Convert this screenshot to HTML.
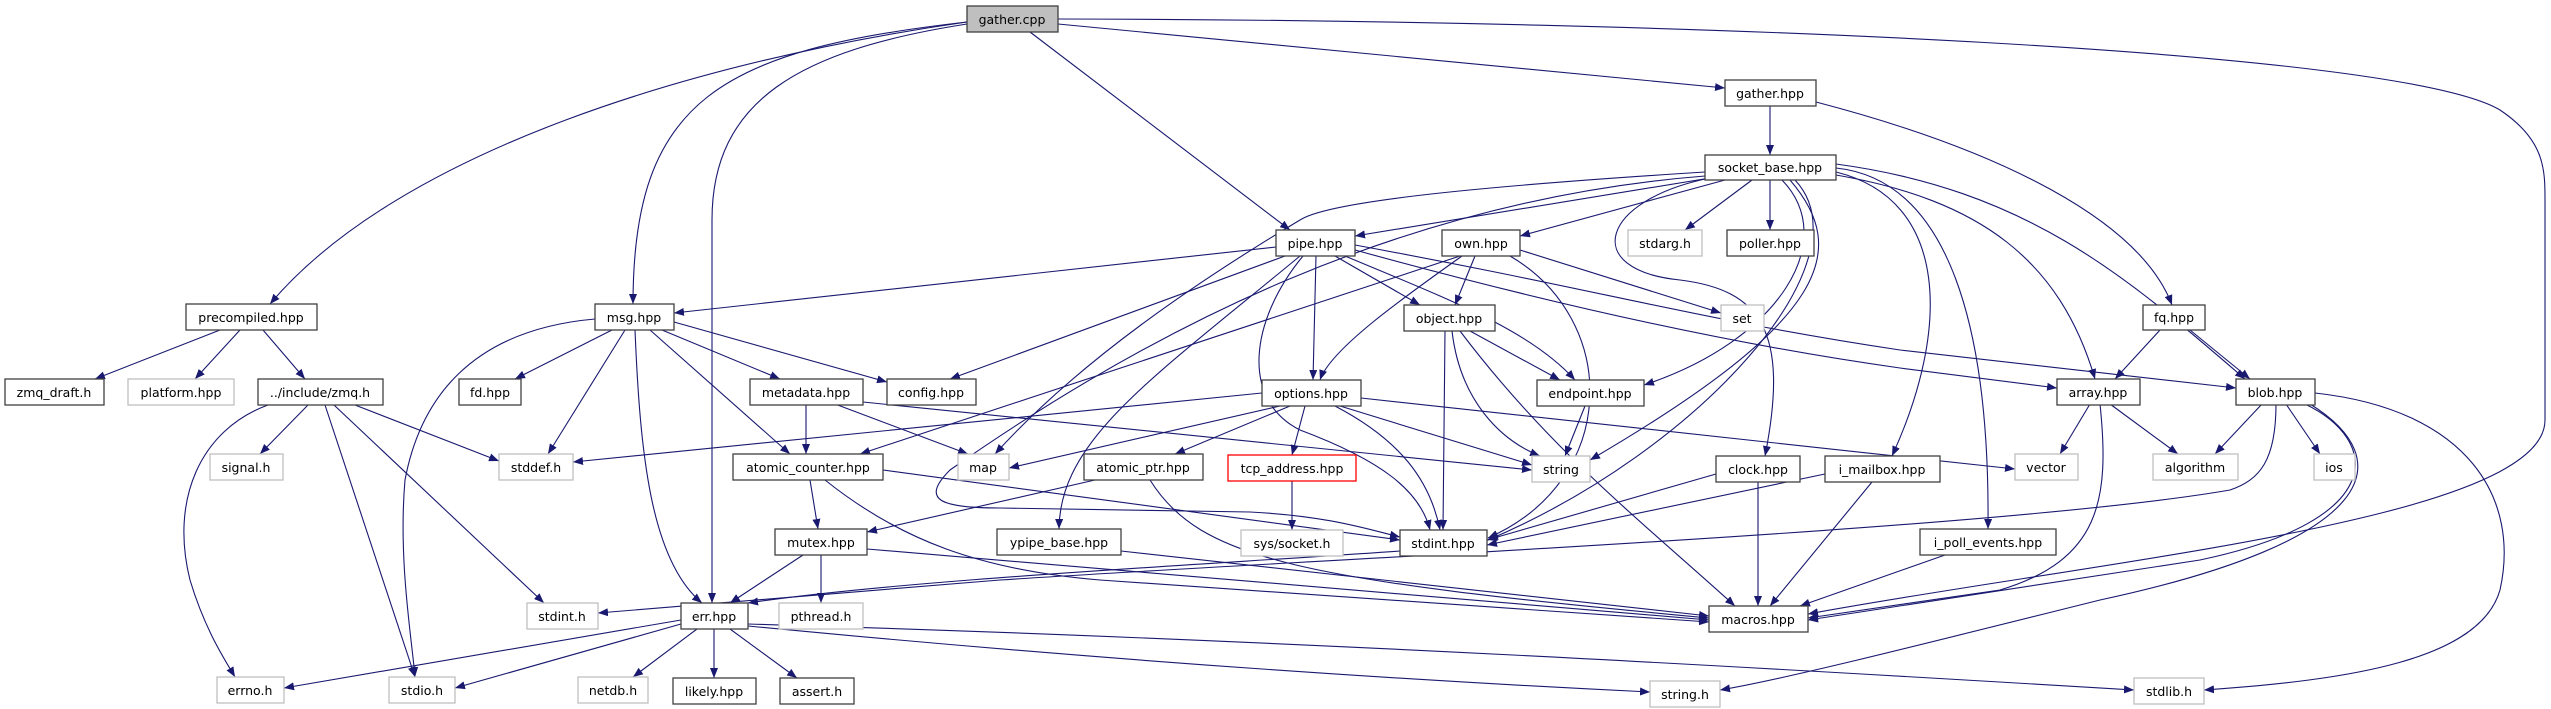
<!DOCTYPE html>
<html><head><meta charset="utf-8"><style>
html,body{margin:0;padding:0;background:#fff}
svg{display:block}
text{font-family:"DejaVu Sans","Liberation Sans",sans-serif;font-size:12.5px;fill:#000}
.e{fill:none;stroke:#191970;stroke-width:1.1}
</style></head><body>
<svg width="2551" height="709" viewBox="0 0 2551 709" xmlns="http://www.w3.org/2000/svg">
<defs><marker id="a" markerUnits="userSpaceOnUse" markerWidth="11" markerHeight="8" refX="10" refY="4" orient="auto"><path d="M0,0 L10,4 L0,8 z" fill="#191970"/></marker></defs>
<g class="e" marker-end="url(#a)">
<path d="M967,22 C700,60 400,150 270,304"/>
<path d="M967,22 C720,50 633,100 633,304"/>
<path d="M967,24 C800,50 712,100 712,220 L712,603"/>
<path d="M1030,32 L1290,230"/>
<path d="M1058,24 L1725,88"/>
<path d="M1058,19 C1700,20 2400,50 2500,110 C2545,140 2545,170 2545,200 L2545,420 C2545,520 2100,560 1808,614"/>
<path d="M1770,106 L1770,155"/>
<path d="M1816,102 C2000,150 2140,220 2172,305"/>
<path d="M1710,178 L1355,236"/>
<path d="M1725,180 L1520,236"/>
<path d="M1752,180 L1685,230"/>
<path d="M1770,180 L1770,230"/>
<path d="M1705,172 C1500,185 1330,200 1300,220 C1200,280 1080,360 995,454"/>
<path d="M1705,176 C1400,200 1150,330 950,470 C920,500 940,508 1000,508 L1250,512 C1330,516 1370,530 1400,537"/>
<path d="M1790,180 C1850,250 1830,320 1590,460"/>
<path d="M1782,180 C1840,240 1780,340 1644,385"/>
<path d="M1710,178 C1600,200 1580,270 1680,280 C1760,290 1790,330 1765,456"/>
<path d="M1836,172 C1950,200 1950,330 1892,456"/>
<path d="M1836,168 C1950,180 1990,330 1988,529"/>
<path d="M1836,175 C1980,200 2060,260 2095,379"/>
<path d="M1836,164 C2030,190 2130,280 2245,379"/>
<path d="M1795,180 C1870,260 1700,450 1488,540"/>
<path d="M1510,256 C1620,320 1620,480 1488,538"/>
<path d="M1276,247 L674,313"/>
<path d="M1285,256 L950,379"/>
<path d="M1335,256 L1420,305"/>
<path d="M1316,256 L1313,380"/>
<path d="M1345,256 C1450,300 1530,330 1575,380"/>
<path d="M1303,256 C1250,320 1240,400 1300,430 C1380,460 1420,490 1430,530"/>
<path d="M1300,256 C1150,380 1060,440 1059,529"/>
<path d="M1355,250 C1500,290 1700,340 1900,368 L2057,388"/>
<path d="M1355,245 C1600,290 1700,320 1900,350 L2236,388"/>
<path d="M1460,256 L860,454"/>
<path d="M1475,256 L1455,305"/>
<path d="M1462,256 C1400,300 1330,350 1320,380"/>
<path d="M1520,250 L1721,313"/>
<path d="M1445,331 L1443,530"/>
<path d="M1452,331 C1460,400 1500,440 1540,456"/>
<path d="M1470,331 L1560,380"/>
<path d="M1460,331 C1550,450 1640,520 1735,606"/>
<path d="M1262,393 L573,462"/>
<path d="M1280,406 L1009,468"/>
<path d="M1290,406 L1175,454"/>
<path d="M1305,406 L1292,455"/>
<path d="M1340,406 L1532,465"/>
<path d="M1335,406 C1400,440 1430,480 1440,530"/>
<path d="M1361,398 L2015,469"/>
<path d="M1585,406 L1565,456"/>
<path d="M806,404 L806,454"/>
<path d="M835,404 L968,454"/>
<path d="M863,402 L1532,470"/>
<path d="M612,330 L515,379"/>
<path d="M625,330 L548,454"/>
<path d="M595,319 C470,330 420,400 405,480 C398,560 412,640 415,677"/>
<path d="M635,330 C640,450 650,560 702,603"/>
<path d="M650,330 L790,454"/>
<path d="M662,330 L780,379"/>
<path d="M674,322 L887,382"/>
<path d="M810,480 L818,529"/>
<path d="M883,470 L1400,540"/>
<path d="M825,480 C900,540 980,570 1100,580 L1709,622"/>
<path d="M803,555 L730,603"/>
<path d="M821,555 L821,603"/>
<path d="M867,549 L1709,620"/>
<path d="M1095,480 L867,532"/>
<path d="M1150,480 C1200,560 1300,580 1709,618"/>
<path d="M1121,551 L1709,616"/>
<path d="M1292,481 L1292,530"/>
<path d="M1716,474 L1487,540"/>
<path d="M1758,482 L1758,606"/>
<path d="M1825,474 L1487,545"/>
<path d="M1872,482 L1770,606"/>
<path d="M1945,555 L1800,606"/>
<path d="M2090,404 L2060,454"/>
<path d="M2110,404 L2178,454"/>
<path d="M2100,404 C2110,500 2100,560 2000,590 L1808,618"/>
<path d="M2262,404 L2215,454"/>
<path d="M2286,404 L2320,454"/>
<path d="M2305,404 C2380,440 2390,520 2200,560 L1808,620"/>
<path d="M2310,404 C2400,460 2380,540 2100,600 C1900,650 1780,680 1720,690"/>
<path d="M2315,393 C2470,410 2520,500 2500,590 C2480,660 2350,680 2204,690"/>
<path d="M2276,404 C2276,460 2260,480 2230,490 C2000,530 1300,560 1000,580 L598,613"/>
<path d="M1400,551 C1200,565 900,580 748,603"/>
<path d="M2160,330 L2115,379"/>
<path d="M2190,330 L2250,379"/>
<path d="M268,405 C200,430 170,500 190,580 C205,630 225,660 235,677"/>
<path d="M308,405 L260,454"/>
<path d="M325,405 L415,677"/>
<path d="M334,405 L544,603"/>
<path d="M355,405 L499,461"/>
<path d="M220,330 L95,379"/>
<path d="M240,330 L195,379"/>
<path d="M263,330 L305,379"/>
<path d="M681,620 L284,688"/>
<path d="M681,624 L455,688"/>
<path d="M697,629 L633,677"/>
<path d="M714,629 L714,678"/>
<path d="M730,629 L797,678"/>
<path d="M748,626 C1100,660 1400,680 1650,692"/>
<path d="M748,624 C1300,640 1800,670 2134,690"/>
</g>
<g stroke-width="1.3" text-anchor="middle">
<g fill="#fff" stroke="#404040">
<rect x="967" y="6" width="91" height="26" fill="#bfbfbf"/>
<rect x="1725" y="80" width="91" height="26"/>
<rect x="1705" y="155" width="131" height="25"/>
<rect x="1276" y="230" width="79" height="26"/>
<rect x="1442" y="230" width="78" height="26"/>
<rect x="1727" y="230" width="87" height="26"/>
<rect x="1404" y="305" width="91" height="26"/>
<rect x="2143" y="305" width="62" height="25"/>
<rect x="186" y="304" width="131" height="26"/>
<rect x="595" y="304" width="79" height="26"/>
<rect x="5" y="379" width="99" height="26"/>
<rect x="258" y="379" width="125" height="26"/>
<rect x="459" y="379" width="62" height="26"/>
<rect x="750" y="379" width="113" height="26"/>
<rect x="887" y="379" width="89" height="26"/>
<rect x="1262" y="380" width="99" height="26"/>
<rect x="1537" y="380" width="107" height="26"/>
<rect x="2057" y="379" width="83" height="26"/>
<rect x="2236" y="379" width="79" height="26"/>
<rect x="733" y="454" width="150" height="26"/>
<rect x="1084" y="454" width="119" height="26"/>
<rect x="1716" y="456" width="84" height="26"/>
<rect x="1825" y="456" width="115" height="26"/>
<rect x="775" y="529" width="92" height="26"/>
<rect x="997" y="529" width="124" height="26"/>
<rect x="1400" y="530" width="87" height="26"/>
<rect x="1920" y="529" width="136" height="26"/>
<rect x="681" y="603" width="67" height="26"/>
<rect x="1709" y="606" width="99" height="26"/>
<rect x="673" y="678" width="83" height="26"/>
<rect x="780" y="678" width="74" height="26"/>
</g>
<g fill="#fff" stroke="#bfbfbf">
<rect x="1628" y="230" width="74" height="26"/>
<rect x="1721" y="305" width="43" height="26"/>
<rect x="128" y="379" width="106" height="26"/>
<rect x="210" y="454" width="73" height="26"/>
<rect x="499" y="454" width="74" height="26"/>
<rect x="958" y="454" width="51" height="26"/>
<rect x="1532" y="456" width="58" height="26"/>
<rect x="2015" y="454" width="63" height="26"/>
<rect x="2153" y="454" width="85" height="26"/>
<rect x="2314" y="454" width="41" height="26"/>
<rect x="1241" y="530" width="102" height="26"/>
<rect x="527" y="603" width="71" height="26"/>
<rect x="779" y="603" width="84" height="26"/>
<rect x="217" y="677" width="67" height="26"/>
<rect x="389" y="677" width="66" height="26"/>
<rect x="578" y="677" width="70" height="26"/>
<rect x="1650" y="681" width="70" height="26"/>
<rect x="2134" y="678" width="70" height="26"/>
</g>
<rect x="1228" y="455" width="128" height="26" fill="#fff" stroke="#ff0000"/>
<text x="1012" y="24">gather.cpp</text>
<text x="1770" y="98">gather.hpp</text>
<text x="1770" y="172">socket_base.hpp</text>
<text x="1315" y="248">pipe.hpp</text>
<text x="1481" y="248">own.hpp</text>
<text x="1770" y="248">poller.hpp</text>
<text x="1449" y="323">object.hpp</text>
<text x="2174" y="322">fq.hpp</text>
<text x="251" y="322">precompiled.hpp</text>
<text x="634" y="322">msg.hpp</text>
<text x="54" y="397">zmq_draft.h</text>
<text x="320" y="397">../include/zmq.h</text>
<text x="490" y="397">fd.hpp</text>
<text x="806" y="397">metadata.hpp</text>
<text x="931" y="397">config.hpp</text>
<text x="1311" y="398">options.hpp</text>
<text x="1590" y="398">endpoint.hpp</text>
<text x="2098" y="397">array.hpp</text>
<text x="2275" y="397">blob.hpp</text>
<text x="808" y="472">atomic_counter.hpp</text>
<text x="1143" y="472">atomic_ptr.hpp</text>
<text x="1292" y="473">tcp_address.hpp</text>
<text x="1758" y="474">clock.hpp</text>
<text x="1882" y="474">i_mailbox.hpp</text>
<text x="821" y="547">mutex.hpp</text>
<text x="1059" y="547">ypipe_base.hpp</text>
<text x="1443" y="548">stdint.hpp</text>
<text x="1988" y="547">i_poll_events.hpp</text>
<text x="714" y="621">err.hpp</text>
<text x="1758" y="624">macros.hpp</text>
<text x="714" y="696">likely.hpp</text>
<text x="817" y="696">assert.h</text>
<text x="1665" y="248">stdarg.h</text>
<text x="1742" y="323">set</text>
<text x="181" y="397">platform.hpp</text>
<text x="246" y="472">signal.h</text>
<text x="536" y="472">stddef.h</text>
<text x="983" y="472">map</text>
<text x="1561" y="474">string</text>
<text x="2046" y="472">vector</text>
<text x="2195" y="472">algorithm</text>
<text x="2334" y="472">ios</text>
<text x="1292" y="548">sys/socket.h</text>
<text x="562" y="621">stdint.h</text>
<text x="821" y="621">pthread.h</text>
<text x="250" y="695">errno.h</text>
<text x="422" y="695">stdio.h</text>
<text x="613" y="695">netdb.h</text>
<text x="1685" y="699">string.h</text>
<text x="2169" y="696">stdlib.h</text>
</g>
</svg>
</body></html>
